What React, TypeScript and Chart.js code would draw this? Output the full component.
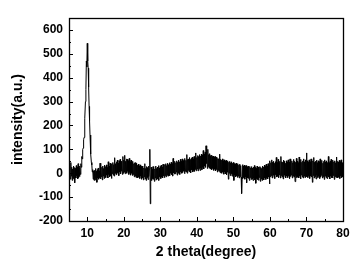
import React, { useEffect, useRef } from "react";
import { Chart, registerables } from "chart.js";

Chart.register(...registerables);

// Sampling of the scan (2θ, degrees)
const X_START = 5;
const X_STEP = 0.125;

// Intensity (a.u.), one row per degree (8 samples)
const INTENSITY_05_30: number[] = [
  28, -18, 22, -25, 45, -12, 25, -30,
  18, -22, 30, -15, 24, -40, 20, -20,
  32, -10, 26, -24, 40, -18, 22, -14,
  30, -5, 40, 25, 70, 60, 100, 105,
  140, 150, 195, 230, 300, 350, 470, 445,
  544, 470, 440, 360, 280, 220, 160, 110,
  80, 45, 35, 5, 15, -25, 10, -30,
  12, -28, 20, -22, 8, -38, 15, -20,
  22, -25, 10, -18, 42, -24, 18, -15,
  25, -28, 30, -12, 20, -22, 34, -10,
  28, -18, 35, -8, 24, -20, 48, -5,
  30, -15, 42, -10, 32, -22, 40, -2,
  45, -8, 36, -12, 65, 0, 40, -6,
  48, -4, 55, 2, 42, -10, 52, 5,
  58, -2, 50, 8, 46, -5, 70, 0,
  55, 5, 75, -2, 50, 10, 60, 0,
  58, 8, 52, -5, 62, 4, 48, -8,
  55, 0, 45, -10, 50, -5, 40, -15,
  44, -12, 45, -18, 42, -8, 34, -20,
  38, -15, 30, -22, 35, -12, 28, -25,
  30, -20, 26, -28, 22, -15, 40, -24,
  20, -30, 28, -18, 24, -26, 30, -14,
  18, 100, -128, -20, 25, -30, 16, -22,
  28, -26, 22, -34, 18, -20, 30, -28,
  20, -24, 26, -18, 32, -30, 22, -15,
];

const INTENSITY_30_55: number[] = [
  28, -22, 34, -16, 26, -20, 38, -12,
  30, -18, 36, -10, 40, -15, 32, -8,
  42, -12, 36, -5, 44, -10, 38, 0,
  46, -6, 40, -12, 62, 2, 42, -4,
  50, -2, 44, 5, 52, -8, 46, 0,
  55, 2, 48, -5, 58, 6, 50, 0,
  60, 4, 52, 10, 56, -2, 62, 8,
  54, 5, 78, 0, 58, 12, 60, 6,
  66, 8, 58, 2, 62, 14, 68, 5,
  60, 12, 70, 8, 64, 15, 85, 10,
  66, 18, 74, 10, 70, 20, 78, 12,
  72, 22, 80, 15, 76, 25, 95, 18,
  80, 30, 88, 25, 115, 40, 92, 20,
  100, 28, 78, 22, 82, 18, 74, 25,
  76, 15, 70, 20, 72, 12, 68, 18,
  70, 10, 64, 15, 68, 5, 62, 12,
  60, 8, 80, 2, 58, 10, 55, 0,
  60, 5, 52, -4, 56, 6, 50, -2,
  54, -6, 48, 4, 52, -25, 46, 0,
  50, -10, 44, -2, 48, -12, 42, -5,
  45, -30, 40, -8, 38, -15, 42, -10,
  36, -18, 40, -12, 34, -20, 38, -14,
  32, -16, -85, -20, 36, -22, 30, -18,
  34, -25, 28, -15, 32, -40, 26, -20,
  30, -22, 24, -30, 28, -18, 22, -26,
];

const INTENSITY_55_80: number[] = [
  28, -24, 22, -30, 26, -20, 32, -28,
  24, -42, 20, -22, 30, -26, 26, -30,
  22, -18, 28, -34, 24, -24, 20, -30,
  30, -22, 26, -28, 34, -20, 28, -26,
  38, -18, 30, -24, 40, -16, 34, -45,
  52, -15, 44, -10, 56, -20, 46, -8,
  50, -14, 42, -22, 48, -6, 66, -16,
  45, -12, 58, -18, 44, -8, 50, -20,
  70, -10, 48, -16, 46, -24, 55, -8,
  50, -14, 42, -20, 52, -12, 47, -18,
  56, -10, 46, -22, 60, -14, 48, -8,
  52, -20, 44, -12, 58, -16, 50, -35,
  46, -10, 62, -18, 50, -14, 44, -20,
  68, -12, 48, -24, 58, -8, 46, -16,
  52, -20, 60, -12, 48, -18, 56, -10,
  85, -14, 52, -18, 46, -10, 56, -22,
  48, -12, 60, -16, 44, -38, 52, -10,
  66, -20, 46, -14, 50, -24, 55, -8,
  44, -18, 52, -12, 48, -22, 60, -16,
  46, -10, 54, -20, 42, -14, 50, -26,
  56, -12, 48, -18, 52, -22, 45, -10,
  70, -16, 44, -24, 50, -12, 58, -18,
  46, -20, 55, -10, 48, -26, 52, -14,
  44, -18, 68, -12, 50, -20, 46, -16,
  54, -22, 48, -10, 56, -18, 44, -14,
  15,
];

const X_TICKS = [10, 20, 30, 40, 50, 60, 70, 80];
const X_MINOR = [15, 25, 35, 45, 55, 65, 75];
const Y_TICKS = [-200, -100, 0, 100, 200, 300, 400, 500, 600];
const Y_MINOR = [-150, -50, 50, 150, 250, 350, 450, 550];

const X_TITLE = "2 theta(degree)";
const Y_TITLE = "intensity(a.u.)";

const FONT = "'Liberation Sans', Arial, sans-serif";

const framePlugin = {
  id: "frame",
  afterDatasetsDraw(chart: any) {
    const { ctx, chartArea, scales } = chart;
    const { left, right, top, bottom } = chartArea;
    ctx.save();
    ctx.strokeStyle = "#000";
    ctx.lineWidth = 1;
    ctx.beginPath();
    const xs = scales.x;
    const ys = scales.y;
    X_TICKS.forEach((v) => {
      const p = Math.round(xs.getPixelForValue(v)) + 0.5;
      ctx.moveTo(p, bottom);
      ctx.lineTo(p, bottom - 4);
    });
    X_MINOR.forEach((v) => {
      const p = Math.round(xs.getPixelForValue(v)) + 0.5;
      ctx.moveTo(p, bottom);
      ctx.lineTo(p, bottom - 2);
    });
    Y_TICKS.forEach((v) => {
      const p = Math.round(ys.getPixelForValue(v)) + 0.5;
      ctx.moveTo(left, p);
      ctx.lineTo(left + 4, p);
    });
    Y_MINOR.forEach((v) => {
      const p = Math.round(ys.getPixelForValue(v)) + 0.5;
      ctx.moveTo(left, p);
      ctx.lineTo(left + 2, p);
    });
    ctx.stroke();
    ctx.lineWidth = 1.3;
    ctx.strokeRect(Math.round(left) + 0.5, Math.round(top) + 0.5, Math.round(right - left), Math.round(bottom - top));
    ctx.restore();
  },
};

export default function App() {
  const ref = useRef<HTMLCanvasElement | null>(null);

  useEffect(() => {
    if (!ref.current) return;
    const intensity = [...INTENSITY_05_30, ...INTENSITY_30_55, ...INTENSITY_55_80];
    const points = intensity.map((y, i) => ({ x: X_START + i * X_STEP, y }));
    const chart = new Chart(ref.current, {
      type: "line",
      data: {
        datasets: [
          {
            data: points,
            borderColor: "#000",
            borderWidth: 1,
            borderJoinStyle: "bevel",
            pointRadius: 0,
            tension: 0,
            fill: false,
          },
        ],
      },
      options: {
        animation: false,
        responsive: false,
        events: [],
        layout: { padding: { left: 0, top: 18, right: 20, bottom: 0 } },
        plugins: { legend: { display: false }, tooltip: { enabled: false } },
        scales: {
          x: {
            type: "linear",
            min: 5,
            max: 80,
            grid: { display: false, drawTicks: false },
            border: { display: false },
            afterBuildTicks: (s: any) => {
              s.ticks = X_TICKS.map((v) => ({ value: v }));
            },
            afterFit: (s: any) => {
              s.height = 51;
            },
            ticks: {
              color: "#000",
              padding: 5,
              maxRotation: 0,
              font: { family: FONT, size: 12, weight: "bold" },
            },
            title: {
              display: true,
              text: X_TITLE,
              color: "#000",
              padding: { top: 0, bottom: 11 },
              font: { family: FONT, size: 14, weight: "bold" },
            },
          },
          y: {
            type: "linear",
            min: -200,
            max: 650,
            grid: { display: false, drawTicks: false },
            border: { display: false },
            afterBuildTicks: (s: any) => {
              s.ticks = Y_TICKS.map((v) => ({ value: v }));
            },
            afterFit: (s: any) => {
              s.width = 69;
            },
            ticks: {
              color: "#000",
              padding: 6,
              font: { family: FONT, size: 12, weight: "bold" },
            },
            title: {
              display: true,
              text: Y_TITLE,
              color: "#000",
              padding: { top: 10, bottom: 0 },
              font: { family: FONT, size: 14, weight: "bold" },
            },
          },
        },
      },
      plugins: [framePlugin],
    } as any);
    return () => chart.destroy();
  }, []);

  return (
    <div style={{ position: "absolute", left: 0, top: 0, width: 363, height: 272, background: "#fff" }}>
      <canvas ref={ref} width={363} height={272} />
    </div>
  );
}
